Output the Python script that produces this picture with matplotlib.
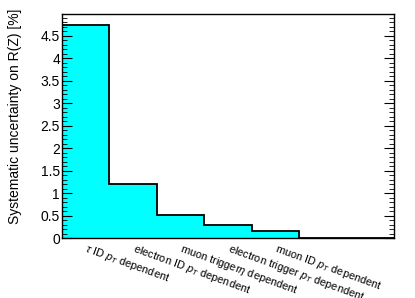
import matplotlib
matplotlib.use("Agg")
import matplotlib.pyplot as plt
from matplotlib.ticker import MultipleLocator, NullLocator
import numpy as np

categories = [r"$\tau$ ID $p_{T}$ dependent",
              r"electron ID $p_{T}$ dependent",
              r"muon trigger$\eta$ dependent",
              r"electron trigger $p_{T}$ dependent",
              r"muon ID $p_{T}$ dependent",
              "", ""]
values = [4.75, 1.2, 0.51, 0.28, 0.15, 0.0, 0.0]

plt.rcParams['font.family'] = ['Liberation Sans', 'DejaVu Sans']
plt.rcParams['mathtext.fontset'] = 'custom'
plt.rcParams['mathtext.rm'] = 'Liberation Sans'
plt.rcParams['mathtext.it'] = 'Liberation Sans:italic'

fig = plt.figure(figsize=(4.15, 2.98), dpi=100)
ax = fig.add_axes([62/415, 1-238/298, (394-62)/415, (238-14)/298])

edges = np.arange(len(values) + 1)
ax.stairs(values, edges, fill=True, facecolor='#00ffff', edgecolor='none')
ax.stairs(values, edges, fill=False, color='black', linewidth=1.3)

ax.set_xlim(0, len(values))
ax.set_ylim(0, 1.05 * max(values))
ax.yaxis.set_major_locator(MultipleLocator(0.5))
ax.yaxis.set_minor_locator(MultipleLocator(0.1))
ax.tick_params(axis='y', which='both', direction='in', left=True, right=True,
               labelsize=10, pad=1.5)
ax.tick_params(axis='y', which='major', length=7, width=0.8)
ax.tick_params(axis='y', which='minor', length=3.5, width=0.6)
ax.yaxis.set_major_formatter(matplotlib.ticker.FuncFormatter(lambda v, p: ('%g' % v)))
ax.xaxis.set_major_locator(NullLocator())
for s in ax.spines.values():
    s.set_linewidth(1.0)

ax.set_ylabel("Systematic uncertainty on R(Z) [%]", fontsize=10)
ax.yaxis.set_label_coords(-(62 - 22) / (394 - 62), (238 - 116) / 224)

for i, lab in enumerate(categories):
    if lab:
        ax.text(i + 0.55, -0.08, lab, transform=ax.transData, rotation=-20,
                rotation_mode='anchor', ha='left', va='top', fontsize=7.9)

fig.savefig("out.png", dpi=100)
